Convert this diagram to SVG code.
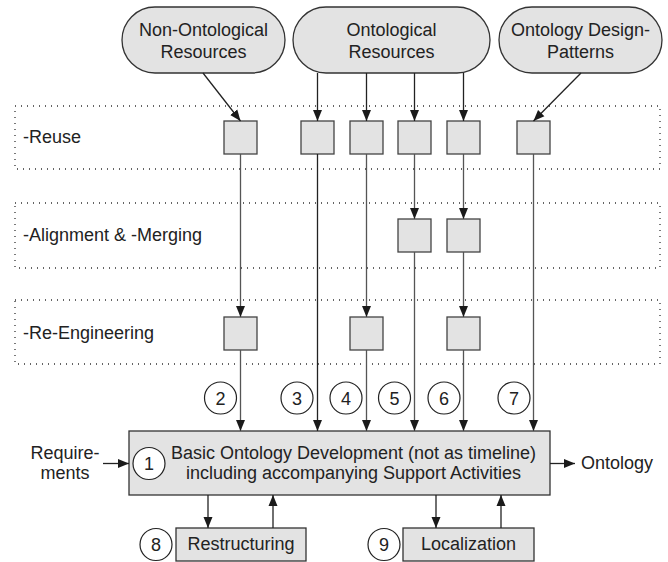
<svg xmlns="http://www.w3.org/2000/svg" width="668" height="562" viewBox="0 0 668 562">
<style>
text{font-family:"Liberation Sans",Arial,sans-serif;font-size:18px;fill:#222}
.c{text-anchor:middle}
.node{fill:#e3e3e3;stroke:#333;stroke-width:1.3}
.sq{fill:#e3e3e3;stroke:#444;stroke-width:1.3}
.zone{fill:none;stroke:#333;stroke-width:1.3;stroke-dasharray:1 5}
.num{fill:#fff;stroke:#222;stroke-width:1.2}
.ln{fill:none;stroke:#222;stroke-width:1.3;marker-end:url(#ah)}
.lg{fill:none;stroke:#555;stroke-width:1.3;marker-end:url(#ah)}
.lp{fill:none;stroke:#555;stroke-width:1.3}
</style>
<defs>
<marker id="ah" markerUnits="userSpaceOnUse" markerWidth="12" markerHeight="10" refX="11" refY="5" orient="auto">
<path d="M0,0.5 L11,5 L0,9.5 z" fill="#1a1a1a"/>
</marker>
</defs>
<rect width="668" height="562" fill="#fff"/>

<g id="zone-reuse">
<rect class="zone" x="15" y="106" width="645" height="63"/>
<text x="23" y="143">-Reuse</text>
</g>
<g id="zone-align">
<rect class="zone" x="15" y="203" width="645" height="65"/>
<text x="23" y="241">-Alignment &amp; -Merging</text>
</g>
<g id="zone-reeng">
<rect class="zone" x="15" y="300" width="645" height="64"/>
<text x="23" y="339">-Re-Engineering</text>
</g>

<g id="non-ontological">
<rect class="node" x="122" y="7" width="163" height="66" rx="33"/>
<text class="c" x="203.5" y="36">Non-Ontological</text>
<text class="c" x="203.5" y="58">Resources</text>
</g>
<g id="ontological">
<rect class="node" x="293" y="7" width="197" height="66" rx="33"/>
<text class="c" x="391.5" y="36">Ontological</text>
<text class="c" x="391.5" y="58">Resources</text>
</g>
<g id="design-patterns">
<rect class="node" x="499" y="7" width="163" height="66" rx="33"/>
<text class="c" x="580.5" y="36">Ontology Design-</text>
<text class="c" x="580.5" y="58">Patterns</text>
</g>

<g id="reuse-squares">
<rect class="sq" x="224" y="121" width="33" height="33"/>
<rect class="sq" x="301" y="121" width="33" height="33"/>
<rect class="sq" x="350" y="121" width="33" height="33"/>
<rect class="sq" x="398" y="121" width="33" height="33"/>
<rect class="sq" x="447" y="121" width="33" height="33"/>
<rect class="sq" x="517" y="121" width="33" height="33"/>
</g>
<g id="align-squares">
<rect class="sq" x="398" y="219" width="33" height="33"/>
<rect class="sq" x="447" y="219" width="33" height="33"/>
</g>
<g id="reeng-squares">
<rect class="sq" x="224" y="317" width="33" height="33"/>
<rect class="sq" x="350" y="317" width="33" height="33"/>
<rect class="sq" x="447" y="317" width="33" height="33"/>
</g>

<g id="main">
<rect class="node" x="129" y="431" width="421" height="64"/>
<text class="c" x="353.5" y="459">Basic Ontology Development (not as timeline)</text>
<text class="c" x="353.5" y="479">including accompanying Support Activities</text>
</g>
<g id="restructuring">
<rect class="node" x="176" y="528" width="130" height="33"/>
<text class="c" x="241" y="550">Restructuring</text>
</g>
<g id="localization">
<rect class="node" x="403" y="528" width="131" height="33"/>
<text class="c" x="468.5" y="550">Localization</text>
</g>
<g id="requirements">
<text class="c" x="65" y="459">Require-</text>
<text class="c" x="65" y="479">ments</text>
</g>
<g id="ontology-out">
<text x="581" y="469">Ontology</text>
</g>

<g id="numbers">
<circle class="num" cx="149" cy="463.5" r="16"/><text class="c" x="149" y="470">1</text>
<circle class="num" cx="220.5" cy="398" r="16"/><text class="c" x="220.5" y="404.5">2</text>
<circle class="num" cx="297" cy="398" r="16"/><text class="c" x="297" y="404.5">3</text>
<circle class="num" cx="346" cy="398" r="16"/><text class="c" x="346" y="404.5">4</text>
<circle class="num" cx="394.5" cy="398" r="16"/><text class="c" x="394.5" y="404.5">5</text>
<circle class="num" cx="444" cy="398" r="16"/><text class="c" x="444" y="404.5">6</text>
<circle class="num" cx="514" cy="398" r="16"/><text class="c" x="514" y="404.5">7</text>
<circle class="num" cx="156" cy="544.5" r="16"/><text class="c" x="156" y="551">8</text>
<circle class="num" cx="384" cy="544.5" r="16"/><text class="c" x="384" y="551">9</text>
</g>

<g id="connectors">
<line class="ln" x1="203" y1="73" x2="240.5" y2="121"/>
<line class="ln" x1="317.5" y1="73" x2="317.5" y2="121"/>
<line class="ln" x1="366.5" y1="73" x2="366.5" y2="121"/>
<line class="ln" x1="414.5" y1="73" x2="414.5" y2="121"/>
<line class="ln" x1="463.5" y1="73" x2="463.5" y2="121"/>
<line class="ln" x1="581" y1="73" x2="533.5" y2="121"/>

<line class="lg" x1="240.5" y1="154" x2="240.5" y2="317"/>
<line class="lg" x1="240.5" y1="350" x2="240.5" y2="431"/>
<line class="ln" x1="317.5" y1="154" x2="317.5" y2="431"/>
<line class="lg" x1="366.5" y1="154" x2="366.5" y2="317"/>
<line class="lg" x1="366.5" y1="350" x2="366.5" y2="431"/>
<line class="lg" x1="414.5" y1="154" x2="414.5" y2="219"/>
<line class="lg" x1="414.5" y1="252" x2="414.5" y2="431"/>
<line class="lg" x1="463.5" y1="154" x2="463.5" y2="219"/>
<line class="lg" x1="463.5" y1="252" x2="463.5" y2="317"/>
<line class="lg" x1="463.5" y1="350" x2="463.5" y2="431"/>
<line class="lg" x1="533.5" y1="154" x2="533.5" y2="431"/>

<line class="ln" x1="103" y1="463.5" x2="129" y2="463.5"/>
<line class="ln" x1="550" y1="463.5" x2="575" y2="463.5"/>
<line class="ln" x1="208" y1="495" x2="208" y2="528"/>
<line class="ln" x1="273" y1="528" x2="273" y2="495"/>
<line class="ln" x1="436" y1="495" x2="436" y2="528"/>
<line class="ln" x1="501" y1="528" x2="501" y2="495"/>
</g>
</svg>
